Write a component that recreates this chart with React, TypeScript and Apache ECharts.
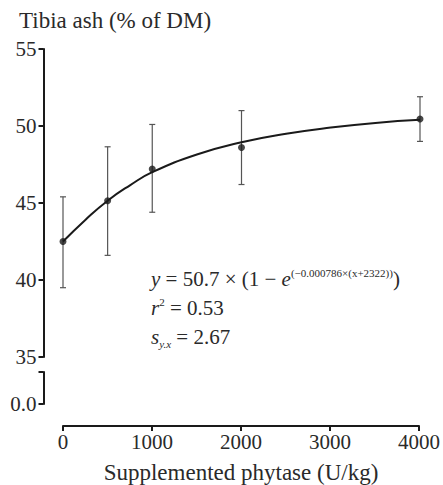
import React, { useEffect, useRef } from "react";
import * as echarts from "echarts";

// Data
const doses = [0, 500, 1000, 2000, 4000];
const meanAsh = [42.5, 45.15, 47.2, 48.6, 50.45];
const upperAsh = [45.4, 48.65, 50.1, 51.0, 51.9];
const lowerAsh = [39.5, 41.6, 44.4, 46.2, 49.0];
const curveX = [0, 250, 500, 750, 1000, 1500, 2000, 2500, 3000, 3500, 4000];
const curveY = [42.5, 43.9, 45.15, 46.15, 47.0, 48.15, 48.95, 49.5, 49.9, 50.2, 50.4];
const xTicks = [0, 1000, 2000, 3000, 4000];

const FONT = "Liberation Serif";
const INK = "#1a1a1a";
const TXT = "#2a2a2a";

export default function App() {
  const ref = useRef<HTMLDivElement>(null);
  useEffect(() => {
    if (!ref.current) return;
    const chart = echarts.init(ref.current, undefined, { renderer: "svg" });
    const axisLine = { show: true, onZero: false, lineStyle: { color: INK, width: 2 } };
    const tick = { show: true, length: 5, lineStyle: { color: INK, width: 2 } };
    const rich = {
      i: { fontFamily: FONT, fontStyle: "italic", fontSize: 21, lineHeight: 24, color: TXT },
      n: { fontFamily: FONT, fontSize: 21, lineHeight: 24, color: TXT },
      sup: { fontFamily: FONT, fontSize: 11, lineHeight: 16, verticalAlign: "top", color: TXT },
      sub: { fontFamily: FONT, fontStyle: "italic", fontSize: 11, lineHeight: 14, verticalAlign: "bottom", color: TXT },
    };
    const option: any = {
      animation: false,
      backgroundColor: "#fff",
      grid: [
        { left: 63, right: 23, top: 49, height: 308 },
        { left: 63, right: 23, top: 372, height: 33 },
      ],
      xAxis: [
        { gridIndex: 0, type: "value", min: 0, max: 4000, interval: 1000, show: false },
        {
          gridIndex: 1,
          type: "value",
          min: 0,
          max: 4000,
          interval: 1000,
          offset: 22,
          axisLine,
          axisTick: tick,
          splitLine: { show: false },
          axisLabel: { color: TXT, fontFamily: FONT, fontSize: 21, margin: 5,
            formatter: (v: number) => (xTicks.includes(v) ? String(v) : "") },
          name: "Supplemented phytase (U/kg)",
          nameLocation: "middle",
          nameGap: 35,
          nameTextStyle: { color: TXT, fontFamily: FONT, fontSize: 23 },
        },
      ],
      yAxis: [
        {
          gridIndex: 0,
          type: "value",
          min: 35,
          max: 55,
          interval: 5,
          offset: 19.5,
          axisLine,
          axisTick: tick,
          splitLine: { show: false },
          axisLabel: { color: TXT, fontFamily: FONT, fontSize: 21, margin: 7 },
        },
        {
          gridIndex: 1,
          type: "value",
          min: 0,
          max: 1,
          interval: 1,
          offset: 19.5,
          axisLine,
          axisTick: tick,
          splitLine: { show: false },
          axisLabel: { color: TXT, fontFamily: FONT, fontSize: 21, margin: 7,
            formatter: (v: number) => (v === 0 ? "0.0" : "") },
        },
      ],
      graphic: [
        {
          type: "text",
          left: 19,
          top: 9,
          style: { text: "Tibia ash (% of DM)", fontFamily: FONT, fontSize: 23, fill: TXT },
        },
        {
          type: "text",
          x: 151,
          y: 279,
          style: {
            text: "{i|y}{n| = 50.7 × (1 − }{i|e}{sup|(−0.000786×(x+2322))}{n|)}",
            fill: TXT,
            verticalAlign: "middle",
            rich,
          },
        },
        {
          type: "text",
          x: 151,
          y: 308,
          style: { text: "{i|r}{sup|2}{n| = 0.53}", fill: TXT, verticalAlign: "middle", rich },
        },
        {
          type: "text",
          x: 151,
          y: 337,
          style: { text: "{i|s}{sub|y.x}{n| = 2.67}", fill: TXT, verticalAlign: "middle", rich },
        },
      ],
      series: [
        {
          type: "line",
          xAxisIndex: 0,
          yAxisIndex: 0,
          data: curveX.map((x, i) => [x, curveY[i]]),
          smooth: true,
          showSymbol: false,
          lineStyle: { color: INK, width: 2 },
          z: 3,
        },
        {
          type: "custom",
          xAxisIndex: 0,
          yAxisIndex: 0,
          data: doses.map((d, i) => [d, lowerAsh[i], upperAsh[i]]),
          renderItem: (params: any, api: any) => {
            const x = api.value(0);
            const lo = api.coord([x, api.value(1)]);
            const hi = api.coord([x, api.value(2)]);
            const w = 3;
            const st = { stroke: "#555", lineWidth: 1.2 };
            return {
              type: "group",
              children: [
                { type: "line", shape: { x1: lo[0], y1: lo[1], x2: hi[0], y2: hi[1] }, style: st },
                { type: "line", shape: { x1: hi[0] - w, y1: hi[1], x2: hi[0] + w, y2: hi[1] }, style: st },
                { type: "line", shape: { x1: lo[0] - w, y1: lo[1], x2: lo[0] + w, y2: lo[1] }, style: st },
              ],
            };
          },
          z: 2,
        },
        {
          type: "scatter",
          xAxisIndex: 0,
          yAxisIndex: 0,
          data: doses.map((d, i) => [d, meanAsh[i]]),
          symbolSize: 7,
          itemStyle: { color: INK },
          z: 4,
        },
      ],
    };
    chart.setOption(option);
    return () => chart.dispose();
  }, []);
  return (
    <div
      ref={ref}
      style={{ position: "fixed", left: 0, top: 0, width: 443, height: 485, background: "#fff" }}
    />
  );
}
